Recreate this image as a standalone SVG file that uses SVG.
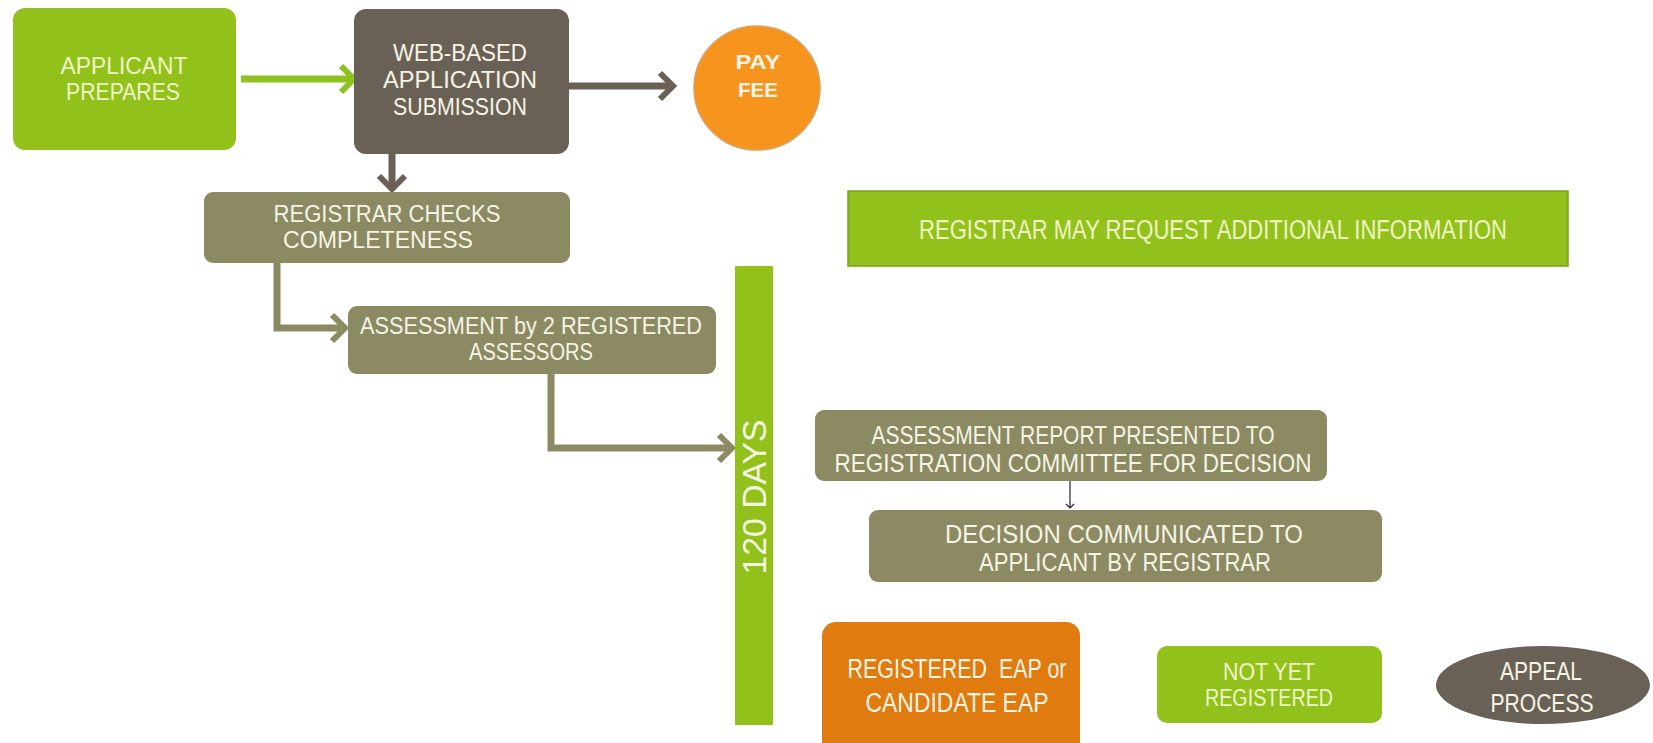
<svg xmlns="http://www.w3.org/2000/svg" width="1653" height="743" viewBox="0 0 1653 743">
<defs>
<style>
.t{font-family:"Liberation Sans",Arial,sans-serif;font-size:23px;text-anchor:middle;fill:#f6f4e4}
.tg{fill:#eef6c4}
.b{font-weight:bold;font-size:21px}
.m{font-size:24px}
.r{font-size:25px}
.big{font-size:27px}
.green{fill:#93c11c}
.olive{fill:#8b8a63}
.dark{fill:#6a6156}
.con{fill:none;stroke-width:7;stroke-linejoin:miter}
</style>
<marker id="ahG" markerUnits="userSpaceOnUse" markerWidth="24" markerHeight="30" refX="14" refY="14" orient="auto" overflow="visible">
<path d="M1,1 L14,14 L1,27" fill="none" stroke="#8dc21f" stroke-width="6"/>
</marker>
<marker id="ahD" markerUnits="userSpaceOnUse" markerWidth="24" markerHeight="30" refX="14" refY="14" orient="auto" overflow="visible">
<path d="M1,1 L14,14 L1,27" fill="none" stroke="#6a6156" stroke-width="6"/>
</marker>
<marker id="ahO" markerUnits="userSpaceOnUse" markerWidth="24" markerHeight="30" refX="14" refY="14" orient="auto" overflow="visible">
<path d="M1,1 L14,14 L1,27" fill="none" stroke="#8b8a63" stroke-width="6"/>
</marker>
<marker id="ahK" markerUnits="userSpaceOnUse" markerWidth="10" markerHeight="10" refX="5" refY="5" orient="auto" overflow="visible">
<path d="M1,1 L5,5 L1,9" fill="none" stroke="#222" stroke-width="1.2"/>
</marker>
</defs>
<rect width="1653" height="743" fill="#ffffff"/>

<g id="connectors">
<line class="con" x1="241" y1="79" x2="354" y2="79" stroke="#8dc21f" marker-end="url(#ahG)"/>
<line class="con" x1="569" y1="86" x2="673" y2="86" stroke="#6a6156" marker-end="url(#ahD)"/>
<line class="con" x1="392" y1="154" x2="392" y2="189" stroke="#6a6156" marker-end="url(#ahD)"/>
<polyline class="con" points="277,262 277,328 345,328" stroke="#8b8a63" marker-end="url(#ahO)"/>
<polyline class="con" points="551,374 551,448 732,448" stroke="#8b8a63" marker-end="url(#ahO)"/>
<line x1="1070" y1="481" x2="1070" y2="508" stroke="#222" stroke-width="1.2" marker-end="url(#ahK)"/>
</g>

<g id="applicant-prepares">
<rect class="green" x="13" y="8" width="223" height="142" rx="12"/>
<text class="t tg" x="124" y="74" textLength="127" lengthAdjust="spacingAndGlyphs">APPLICANT</text>
<text class="t tg" x="123" y="100" textLength="114" lengthAdjust="spacingAndGlyphs">PREPARES</text>
</g>

<g id="web-based-submission">
<rect class="dark" x="354" y="9" width="215" height="145" rx="12"/>
<text class="t m" x="460" y="61" textLength="134" lengthAdjust="spacingAndGlyphs">WEB-BASED</text>
<text class="t m" x="460" y="88" textLength="154" lengthAdjust="spacingAndGlyphs">APPLICATION</text>
<text class="t m" x="460" y="115" textLength="134" lengthAdjust="spacingAndGlyphs">SUBMISSION</text>
</g>

<g id="pay-fee">
<ellipse cx="757" cy="88" rx="63" ry="62" fill="#f7941d" stroke="#d9a060" stroke-width="1.5"/>
<text class="t b" x="758" y="69" textLength="45" lengthAdjust="spacingAndGlyphs">PAY</text>
<text class="t b" x="758" y="97" textLength="40" lengthAdjust="spacingAndGlyphs">FEE</text>
</g>

<g id="registrar-checks">
<rect class="olive" x="204" y="192" width="366" height="71" rx="9"/>
<text class="t" x="387" y="222" textLength="227" lengthAdjust="spacingAndGlyphs">REGISTRAR CHECKS</text>
<text class="t" x="378" y="248" textLength="190" lengthAdjust="spacingAndGlyphs">COMPLETENESS</text>
</g>

<g id="registrar-may-request">
<rect class="green" x="848" y="191" width="720" height="75" stroke="#7aa018" stroke-width="1.5"/>
<text class="t tg big" x="1213" y="239" textLength="588" lengthAdjust="spacingAndGlyphs">REGISTRAR MAY REQUEST ADDITIONAL INFORMATION</text>
</g>

<g id="assessment">
<rect class="olive" x="348" y="306" width="368" height="68" rx="9"/>
<text class="t" x="531" y="334" textLength="342" lengthAdjust="spacingAndGlyphs">ASSESSMENT by 2 REGISTERED</text>
<text class="t" x="531" y="360" textLength="124" lengthAdjust="spacingAndGlyphs">ASSESSORS</text>
</g>

<g id="days-120">
<rect class="green" x="735" y="266" width="38" height="459"/>
<text class="t" transform="translate(766,497) rotate(-90)" style="font-size:34px;fill:#f4f8e0" textLength="155" lengthAdjust="spacingAndGlyphs">120 DAYS</text>
</g>

<g id="assessment-report">
<rect class="olive" x="815" y="410" width="512" height="71" rx="9"/>
<text class="t r" x="1073" y="444" textLength="403" lengthAdjust="spacingAndGlyphs">ASSESSMENT REPORT PRESENTED TO</text>
<text class="t r" x="1073" y="472" textLength="477" lengthAdjust="spacingAndGlyphs">REGISTRATION COMMITTEE FOR DECISION</text>
</g>

<g id="decision-communicated">
<rect class="olive" x="869" y="510" width="513" height="72" rx="9"/>
<text class="t r" x="1124" y="543" textLength="358" lengthAdjust="spacingAndGlyphs">DECISION COMMUNICATED TO</text>
<text class="t r" x="1125" y="571" textLength="292" lengthAdjust="spacingAndGlyphs">APPLICANT BY REGISTRAR</text>
</g>

<g id="registered-eap">
<rect x="822" y="622" width="258" height="135" rx="14" fill="#e07b0f"/>
<text class="t big" x="957" y="678" textLength="219" lengthAdjust="spacingAndGlyphs" xml:space="preserve">REGISTERED  EAP or</text>
<text class="t big" x="957" y="712" textLength="183" lengthAdjust="spacingAndGlyphs">CANDIDATE EAP</text>
</g>

<g id="not-yet-registered">
<rect class="green" x="1157" y="646" width="225" height="77" rx="10"/>
<text class="t tg" x="1269" y="680" textLength="92" lengthAdjust="spacingAndGlyphs">NOT YET</text>
<text class="t tg" x="1269" y="706" textLength="128" lengthAdjust="spacingAndGlyphs">REGISTERED</text>
</g>

<g id="appeal-process">
<ellipse class="dark" cx="1543" cy="685" rx="107" ry="39"/>
<text class="t r" x="1541" y="680" textLength="82" lengthAdjust="spacingAndGlyphs">APPEAL</text>
<text class="t r" x="1542" y="712" textLength="103" lengthAdjust="spacingAndGlyphs">PROCESS</text>
</g>
</svg>
